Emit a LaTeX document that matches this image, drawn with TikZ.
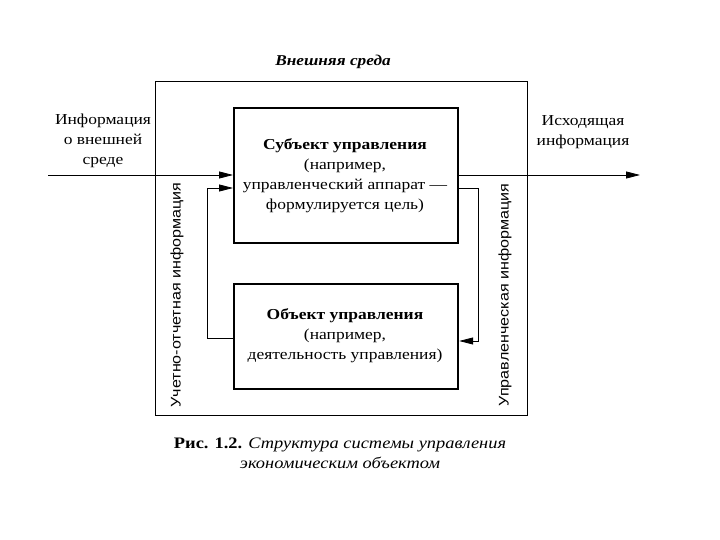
\documentclass[tikz,border=0pt]{standalone}
\usepackage{fontspec}
\setmainfont{Liberation Serif}[FakeStretch=1.15]
\newfontfamily\sansf{Liberation Sans}[FakeStretch=1.15]
\usetikzlibrary{arrows.meta}
\begin{document}
\begin{tikzpicture}[x=1pt,y=-1pt,
  mainbox/.style={draw,line width=2.2pt,minimum width=224pt,anchor=north west,inner sep=0pt},
  lbl/.style={font=\fontsize{15.2}{20}\selectfont,align=center,inner sep=0pt},
  vlbl/.style={font=\sansf\fontsize{14}{15}\selectfont,rotate=90,inner sep=0pt},
  conn/.style={line width=0.8pt},
  arr/.style={conn,-{Triangle[length=14pt,width=7pt]}}]
\useasboundingbox (0,0) rectangle (720,540);
\node[draw,line width=0.9pt,minimum width=372pt,minimum height=334pt,anchor=north west,inner sep=0pt] (env) at (155,81) {};
\node[mainbox,minimum height=135pt] (subj) at (233,107) {};
\node[mainbox,minimum height=105pt] (obj) at (233,283) {};
\node[lbl] (subjt) at (345,176) {\textbf{Субъект управления}\\(например,\\управленческий аппарат —\\формулируется цель)};
\node[lbl] (objt) at (345,336) {\textbf{Объект управления}\\(например,\\деятельность управления)};
\node[font=\bfseries\itshape\fontsize{15}{16}\selectfont,inner sep=0pt] (envt) at (333,62) {Внешняя среда};
\node[lbl] (inft) at (103,141) {Информация\\о внешней\\среде};
\node[lbl] (outt) at (583,132) {Исходящая\\информация};
\node[vlbl] (lv) at (177,295) {Учетно-отчетная информация};
\node[vlbl] (rv) at (505,295) {Управленческая информация};
\node[lbl,font=\fontsize{16}{20}\selectfont] (cap) at (340,453) {\textbf{Рис. 1.2.} \textit{Структура системы управления}\\\textit{экономическим объектом}};
\coordinate (inS) at (48,175);
\coordinate (outE) at (640,175);
\draw[arr] (inS) -- (subj.west |- inS);
\draw[arr] (subj.east |- outE) -- (outE);
\coordinate (lA) at (207,338);
\coordinate (lB) at (207,188);
\draw[arr] (obj.west |- lA) -- (lA) -- (lB) -- (subj.west |- lB);
\coordinate (rA) at (478,188);
\coordinate (rB) at (478,341);
\draw[arr] (subj.east |- rA) -- (rA) -- (rB) -- (obj.east |- rB);
\end{tikzpicture}
\end{document}
